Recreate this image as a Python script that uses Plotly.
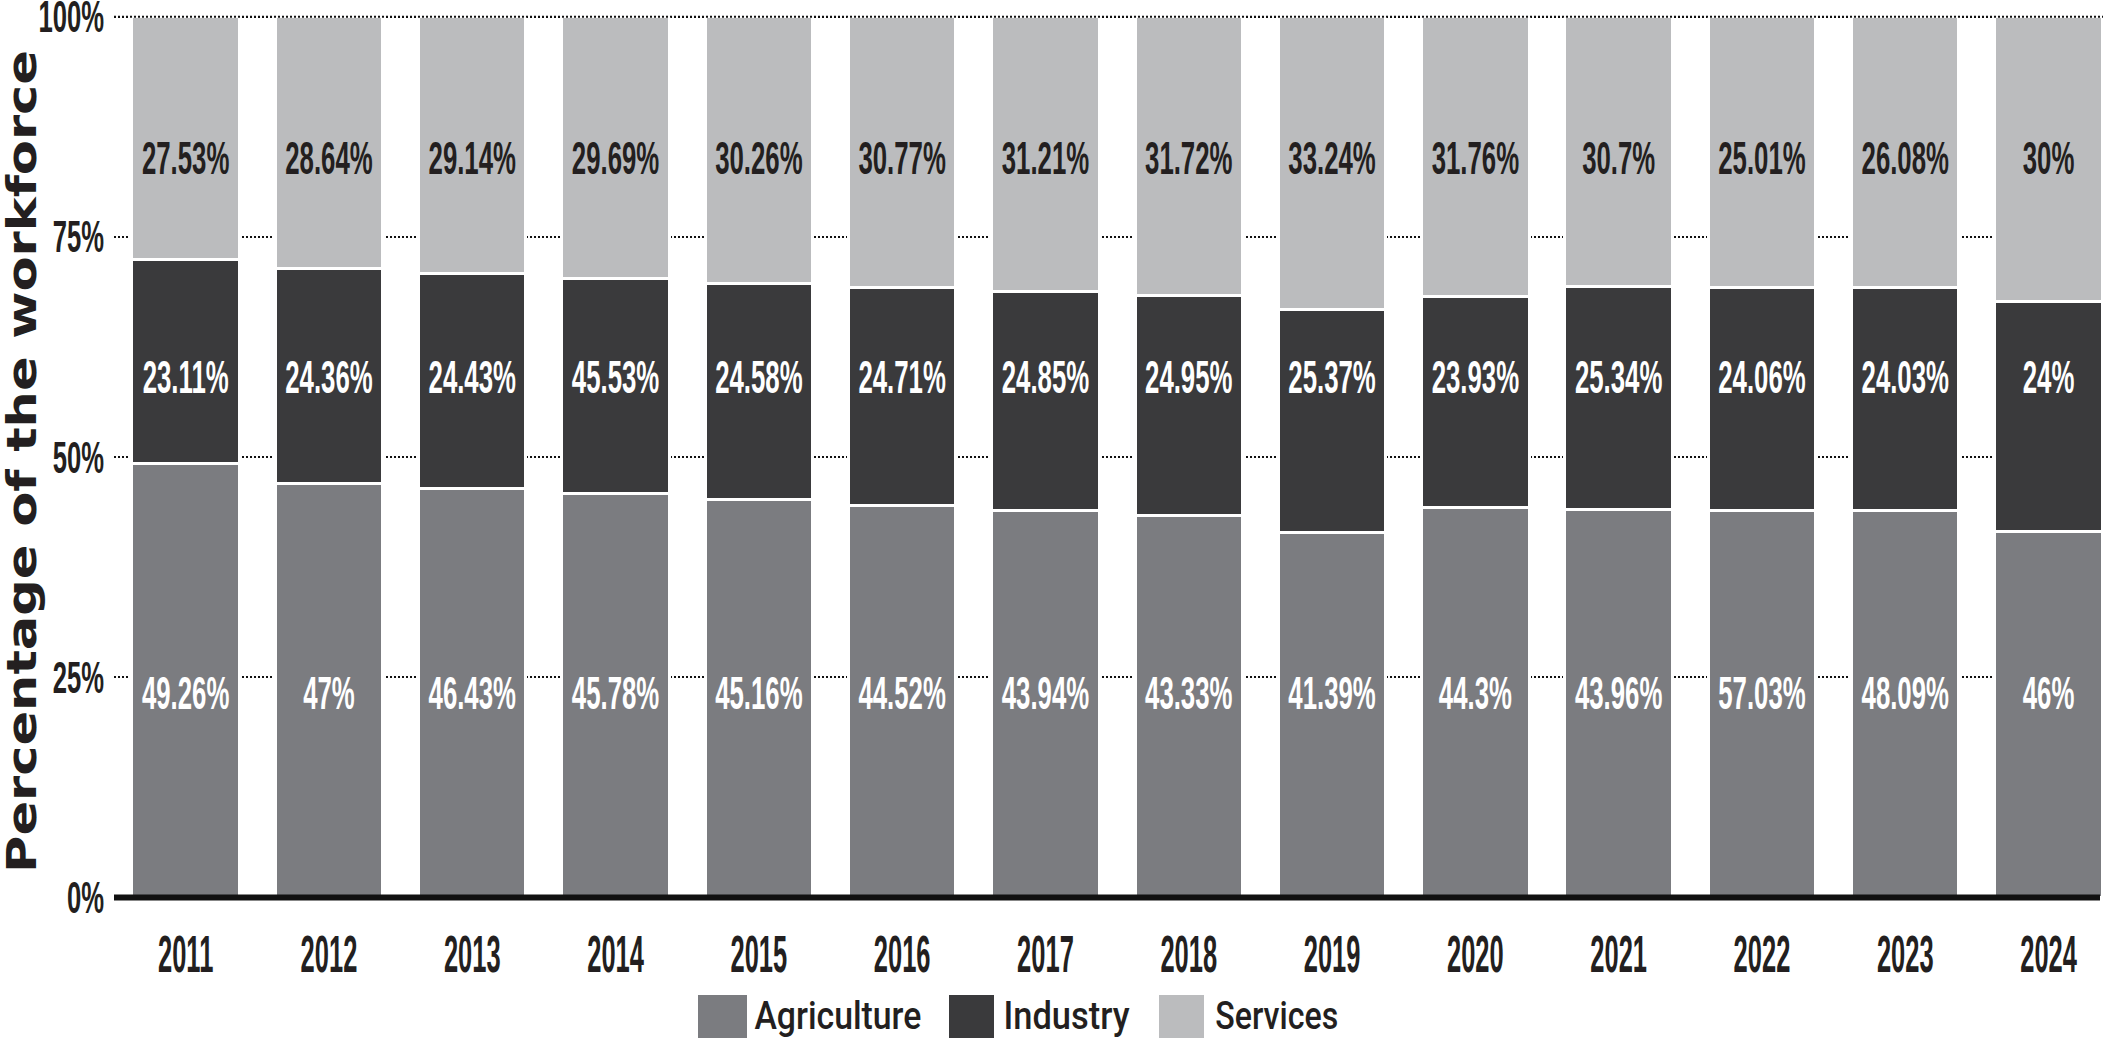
import json
import plotly.graph_objects as go

years = ["2011", "2012", "2013", "2014", "2015", "2016", "2017",
         "2018", "2019", "2020", "2021", "2022", "2023", "2024"]

# bar heights (percent of workforce)
agriculture = [49.26, 47.00, 46.43, 45.78, 45.16, 44.52, 43.94,
               43.33, 41.39, 44.30, 43.96, 43.85, 43.85, 41.50]
industry = [23.11, 24.36, 24.43, 24.53, 24.58, 24.71, 24.85,
            24.95, 25.37, 23.93, 25.34, 25.40, 25.40, 26.20]
services = [27.63, 28.64, 29.14, 29.69, 30.26, 30.77, 31.21,
            31.72, 33.24, 31.77, 30.70, 30.75, 30.75, 32.30]

# labels printed on the bars (as they appear in the original)
agri_labels = ["49.26%", "47%", "46.43%", "45.78%", "45.16%", "44.52%", "43.94%",
               "43.33%", "41.39%", "44.3%", "43.96%", "57.03%", "48.09%", "46%"]
ind_labels = ["23.11%", "24.36%", "24.43%", "45.53%", "24.58%", "24.71%", "24.85%",
              "24.95%", "25.37%", "23.93%", "25.34%", "24.06%", "24.03%", "24%"]
serv_labels = ["27.53%", "28.64%", "29.14%", "29.69%", "30.26%", "30.77%", "31.21%",
               "31.72%", "33.24%", "31.76%", "30.7%", "25.01%", "26.08%", "30%"]

y_tickvals = [0, 25, 50, 75, 100]
y_ticktext = ["0%", "25%", "50%", "75%", "100%"]

series_names = ["Agriculture", "Industry", "Services"]
colors = ["#7b7c80", "#3a3a3c", "#bbbcbe"]
y_title = "Percentage of the workforce"

COND = "Liberation Sans, Arial, sans-serif"
DARK = "#231f20"

fig = go.Figure()
for name, vals, col in zip(series_names, [agriculture, industry, services], colors):
    fig.add_trace(go.Bar(
        x=years, y=vals, name=name,
        marker=dict(color=col, line=dict(color="white", width=3)),
        showlegend=False, hoverinfo="skip",
    ))

label_rows = [(agri_labels, 22.7, "white"),
              (ind_labels, 58.6, "white"),
              (serv_labels, 83.45, DARK)]
for labels, ypos, tcol in label_rows:
    fig.add_trace(go.Scatter(
        x=years, y=[ypos] * len(years), mode="text", text=labels,
        textfont=dict(family=COND, size=46, color=tcol, weight="bold"),
        textposition="middle center", showlegend=False, hoverinfo="skip",
    ))

W, H = 2103, 1040
ml, mr, mt, mb = 114, 0, 14, 143
pw, ph = W - ml - mr, H - mt - mb
y_top = 100.3

fig.update_layout(
    width=W, height=H,
    margin=dict(l=ml, r=mr, t=mt, b=mb, pad=0),
    barmode="stack", bargap=0.25,
    plot_bgcolor="white", paper_bgcolor="white",
    showlegend=False,
    xaxis=dict(
        range=[-0.5, 13.38], showgrid=False, zeroline=False, showline=False,
        automargin=False, ticks="", ticklabeloverflow="allow",
        tickfont=dict(family=COND, size=52, color=DARK, weight="bold"),
        ticklabelstandoff=22,
    ),
    yaxis=dict(
        range=[0, y_top], tickvals=y_tickvals, ticktext=y_ticktext,
        showgrid=True, gridcolor="#111111", gridwidth=2, griddash="2px,2px",
        zeroline=False, showline=False, ticks="", automargin=False,
        ticklabeloverflow="allow",
        tickfont=dict(family=COND, size=45, color=DARK, weight="bold"),
        ticklabelstandoff=9,
    ),
)

def px_x(px):
    return (px - ml) / pw

def px_y(py):
    return (H - mb - py) / ph

# top (100%) dotted rule drawn over the bar tops
fig.add_shape(type="line", xref="paper", yref="y", x0=0, x1=1, y0=100, y1=100,
              line=dict(color="#111111", width=2, dash="2px,2px"), layer="above")

# thick baseline
fig.add_shape(type="line", xref="paper", yref="paper",
              x0=0, x1=px_x(2100), y0=px_y(897.5), y1=px_y(897.5),
              line=dict(color="#111111", width=6), layer="above")

# y-axis title
fig.add_annotation(xref="paper", yref="paper", x=px_x(0), y=px_y(462),
                   xanchor="left", yanchor="middle", textangle=-90, showarrow=False,
                   xshift=-3, text=y_title,
                   font=dict(family="DejaVu Sans", size=40, color=DARK, weight="bold"))

# custom legend (big square swatches)
legend_boxes = [(698, 747), (949, 994), (1159, 1204)]
legend_text_centres = [838, 1066, 1276]
for (sx0, sx1), tcx, name, col in zip(legend_boxes, legend_text_centres, series_names, colors):
    fig.add_shape(type="rect", xref="paper", yref="paper",
                  x0=px_x(sx0), x1=px_x(sx1), y0=px_y(1038), y1=px_y(995),
                  fillcolor=col, line=dict(width=0))
    fig.add_annotation(xref="paper", yref="paper", x=px_x(tcx), y=px_y(1016),
                       xanchor="center", yanchor="middle", showarrow=False, text=name,
                       font=dict(family="Roboto", size=38, color=DARK, weight=500))

# widths (px) the wide-set texts are fitted to, to mimic the condensed face
text_widths = {"Agriculture": 167, "Industry": 126, "Services": 123, y_title: 823}

post = """
document.body.style.margin = '0';
document.body.style.overflow = 'hidden';
var gd = document.querySelector('.plotly-graph-div');
var targets = %s;
function fit(t, w) { t.setAttribute('textLength', w.toFixed(1)); t.setAttribute('lengthAdjust', 'spacingAndGlyphs'); }
function squeeze(sel, f) {
  gd.querySelectorAll(sel).forEach(function (t) {
    var L = t.getComputedTextLength(); if (L > 0) { fit(t, L * f); }
  });
}
squeeze('.xtick text', 0.49);
squeeze('.ytick text', 0.57);
squeeze('.textpoint text', 0.56);
gd.querySelectorAll('.annotation-text').forEach(function (t) {
  var w = targets[t.textContent]; if (w) { fit(t, w); }
});
""" % json.dumps(text_widths)

fig.write_html("out.html", post_script=post, config={"displayModeBar": False})
